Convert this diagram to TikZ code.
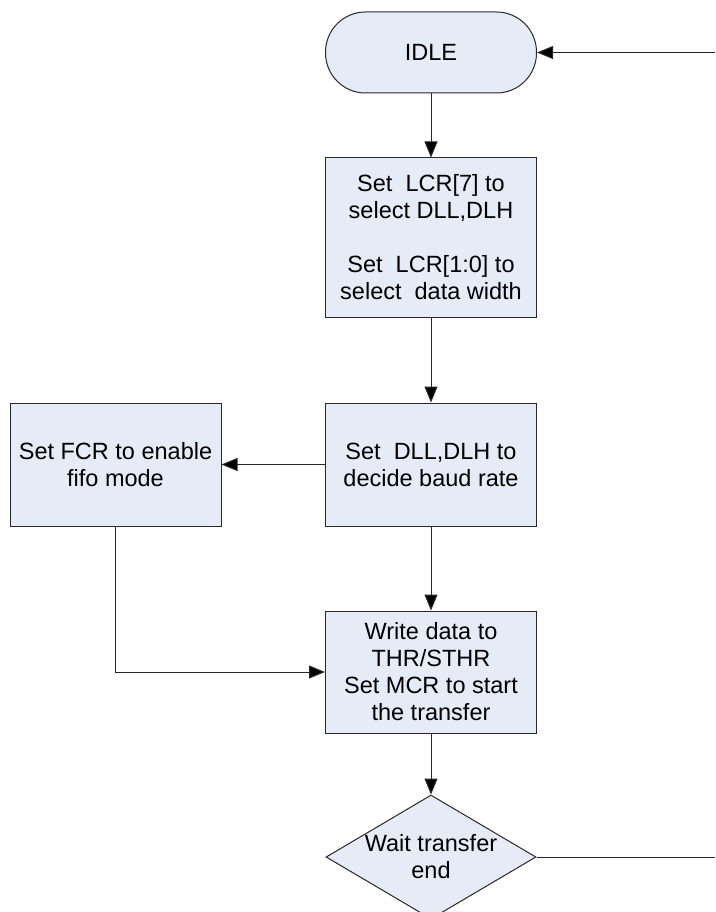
\documentclass[tikz,border=0pt]{standalone}
\usepackage{fontspec}
\setmainfont{Liberation Sans}
\usepackage{tikz}
\usetikzlibrary{arrows.meta,shapes.geometric}

\definecolor{boxfill}{RGB}{230,236,247}
\definecolor{edge}{RGB}{40,40,40}

\begin{document}
\begin{tikzpicture}[x=1pt,y=-1pt,font=\fontsize{23.5}{27}\selectfont,
  >={Triangle[length=16pt,width=13pt,fill=black]},
  flow/.style={draw=edge,line width=1pt},
  stepbox/.style={flow,fill=boxfill,minimum width=211pt,inner sep=0pt,align=center},
  term/.style={stepbox,minimum height=81pt,rounded corners=40pt},
  decide/.style={flow,fill=boxfill,diamond,minimum width=210pt,minimum height=124pt,
    inner sep=0pt,align=center,aspect=1.7}]
  \clip (0,0) rectangle (715,912);
  % main column of steps
  \node[term] (idle) at (431,52.5) {IDLE};
  \node[stepbox,minimum height=159pt] (lcr) at (431,237.5)
    {Set~ LCR[7] to\\select DLL,DLH\\[27pt]Set~ LCR[1:0] to\\select~ data width};
  \node[stepbox,minimum height=123pt] (dll) at (431,464.5) {Set~ DLL,DLH to\\decide baud rate};
  \node[stepbox,minimum height=122pt] (thr) at (431,672)
    {Write data to\\THR/STHR\\Set MCR to start\\the transfer};
  \node[decide] (wait) at (431,857) {Wait transfer\\end};
  % side step
  \node[stepbox,minimum height=123pt] (fcr) at (115.5,464.5) {Set FCR to enable\\fifo mode};
  % loose ends at the right border
  \coordinate (back) at (715,52.5);
  \coordinate (done) at (715,857);
  % connectors
  \draw[flow,->] (back) -- (idle);
  \draw[flow,->] (idle) -- (lcr);
  \draw[flow,->] (lcr) -- (dll);
  \draw[flow,->] (dll) -- (fcr);
  \draw[flow,->] (dll) -- (thr);
  \draw[flow,->] (fcr.south) |- (thr.west);
  \draw[flow,->] (thr) -- (wait);
  \draw[flow] (wait) -- (done);
\end{tikzpicture}
\end{document}
